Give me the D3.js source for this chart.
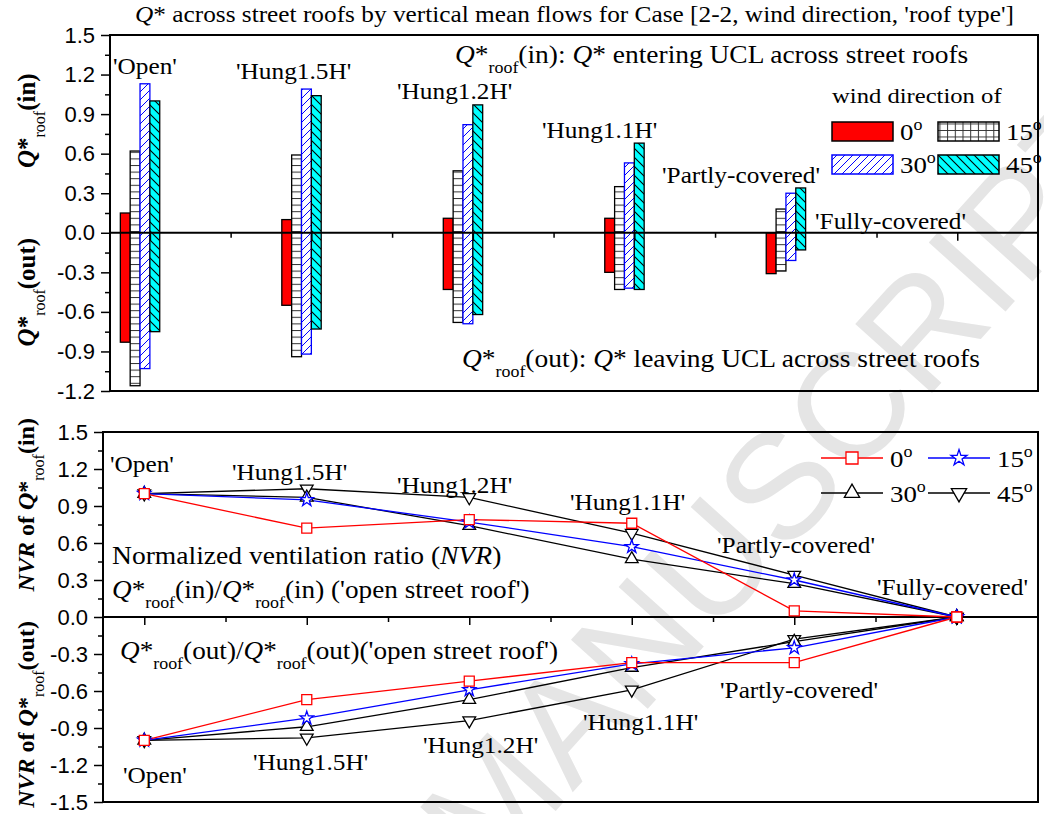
<!DOCTYPE html>
<html>
<head>
<meta charset="utf-8">
<script src="https://cdn.jsdelivr.net/npm/d3@7"></script>
<style>
  body { margin: 0; background: #fff; }
  svg { display: block; }
  .serif { font-family: "Liberation Serif", "Times New Roman", Times, "DejaVu Serif", serif; }
  .sans { font-family: "Liberation Sans", Arial, Helvetica, sans-serif; }
</style>
</head>
<body>
<svg id="chart" width="1044" height="814"></svg>
<script>
// ---- data -------------------------------------------------------------
const roofTypes = ["'Open'", "'Hung1.5H'", "'Hung1.2H'", "'Hung1.1H'", "'Partly-covered'", "'Fully-covered'"];
const windDirections = ["0", "15", "30", "45"];

// Q*roof(in) (positive) and Q*roof(out) (negative), one entry per roof type
const qIn0   = [0.15, 0.10, 0.11, 0.11, 0.00, 0];
const qIn15  = [0.62, 0.59, 0.47, 0.35, 0.18, 0];
const qIn30  = [1.13, 1.09, 0.82, 0.53, 0.30, 0];
const qIn45  = [1.00, 1.04, 0.97, 0.68, 0.34, 0];
const qOut0  = [-0.83, -0.55, -0.43, -0.30, -0.31, 0];
const qOut15 = [-1.16, -0.94, -0.68, -0.43, -0.29, 0];
const qOut30 = [-1.03, -0.92, -0.69, -0.42, -0.21, 0];
const qOut45 = [-0.75, -0.73, -0.62, -0.43, -0.13, 0];

// normalized ventilation ratio (NVR) against the open street roof
const nvrIn0   = [1, 0.72, 0.79, 0.76, 0.05, 0];
const nvrIn15  = [1, 0.95, 0.77, 0.57, 0.30, 0];
const nvrIn30  = [1, 0.97, 0.74, 0.47, 0.27, 0];
const nvrIn45  = [1, 1.04, 0.97, 0.68, 0.34, 0];
const nvrOut0  = [-1, -0.67, -0.52, -0.37, -0.37, 0];
const nvrOut15 = [-1, -0.82, -0.59, -0.38, -0.25, 0];
const nvrOut30 = [-1, -0.89, -0.67, -0.41, -0.20, 0];
const nvrOut45 = [-1, -0.98, -0.84, -0.59, -0.18, 0];

const qTicks   = [-1.2, -0.9, -0.6, -0.3, 0.0, 0.3, 0.6, 0.9, 1.2, 1.5];
const nvrTicks = [-1.5, -1.2, -0.9, -0.6, -0.3, 0.0, 0.3, 0.6, 0.9, 1.2, 1.5];

// ---- setup ------------------------------------------------------------
const svg = d3.select("#chart");
const SX = 1.12;           // horizontal widening of the serif lettering

const fmt = v => d3.format(".1f")(v).replace("\u2212", "-");

// watermark behind the plots
svg.append("text")
  .attr("class", "sans")
  .attr("transform", "translate(782,482) rotate(-48)")
  .attr("text-anchor", "middle")
  .attr("dominant-baseline", "central")
  .attr("font-size", 150)
  .attr("fill", "#e5e5e5")
  .text("MANUSCRIPT");

// rich text helper: segments {t, i (italic), b (bold), sub, sup}
function rich(parent, x, y, segs, o = {}) {
  const size = o.size || 22;
  const tr = o.rotate ? `translate(${x},${y}) rotate(${o.rotate})`
                      : `translate(${x},${y}) scale(${o.sx || SX},1)`;
  const t = parent.append("text")
    .attr("class", "serif")
    .attr("transform", tr)
    .attr("font-size", size)
    .attr("font-weight", o.bold ? "bold" : "normal")
    .attr("text-anchor", o.anchor || "start")
    .attr("fill", "#000");
  let shift = 0;
  const subSize = o.subSize || Math.round(size * 0.62);
  segs.forEach(s => {
    if (typeof s === "string") s = { t: s };
    const sp = t.append("tspan").text(s.t);
    const target = s.sub ? Math.round(size * 0.4) : s.sup ? -Math.round(size * 0.42) : 0;
    if (target !== shift) { sp.attr("dy", target - shift); shift = target; }
    if (s.i) sp.attr("font-style", "italic");
    if (s.b === false) sp.attr("font-weight", "normal");
    if (s.sub || s.sup) sp.attr("font-size", subSize);
  });
  return t;
}
const Q = { t: "Q", i: true };
const ROOF = { t: "roof", sub: true };
const DEG = { t: "o", sup: true };

function styleAxis(g) {
  g.select(".domain").remove();
  g.attr("font-family", null).attr("font-size", null).attr("class", "sans");
  g.selectAll("text").attr("font-size", 22).attr("fill", "#000");
  g.selectAll("line").attr("stroke", "#000").attr("stroke-width", 1.5);
}

// ---- patterns -----------------------------------------------------------
const defs = svg.append("defs");
const pH = defs.append("pattern").attr("id", "hlines").attr("patternUnits", "userSpaceOnUse")
  .attr("width", 20).attr("height", 6.6);
pH.append("rect").attr("width", 20).attr("height", 6.6).attr("fill", "#fff");
pH.append("line").attr("x1", 0).attr("x2", 20).attr("y1", 0.5).attr("y2", 0.5)
  .attr("stroke", "#333").attr("stroke-width", 1);

const pG = defs.append("pattern").attr("id", "grid").attr("patternUnits", "userSpaceOnUse")
  .attr("width", 7.7).attr("height", 6.5);
pG.append("rect").attr("width", 7.7).attr("height", 6.5).attr("fill", "#fff");
pG.append("path").attr("d", "M0,0.5H7.7M0.5,0V6.5").attr("stroke", "#333").attr("stroke-width", 1);

const pB = defs.append("pattern").attr("id", "fwd").attr("patternUnits", "userSpaceOnUse")
  .attr("width", 8).attr("height", 8);
pB.append("rect").attr("width", 8).attr("height", 8).attr("fill", "#fff");
pB.append("path").attr("d", "M0,8L8,0M-2,2L2,-2M6,10L10,6")
  .attr("stroke", "#0000ff").attr("stroke-width", 1);

const pC = defs.append("pattern").attr("id", "bwd").attr("patternUnits", "userSpaceOnUse")
  .attr("width", 9).attr("height", 9);
pC.append("rect").attr("width", 9).attr("height", 9).attr("fill", "#00ffff");
pC.append("path").attr("d", "M0,0L9,9M-2,7L2,11M7,-2L11,2")
  .attr("stroke", "#000").attr("stroke-width", 1.1);

const barStyles = [
  { fill: "#ff0000", stroke: "#000", legend: "#ff0000" },
  { fill: "url(#hlines)", stroke: "#000", legend: "url(#grid)" },
  { fill: "url(#fwd)", stroke: "#0000ff", legend: "url(#fwd)" },
  { fill: "url(#bwd)", stroke: "#000", legend: "url(#bwd)" }
];

// ---- title ----------------------------------------------------------------
rich(svg, 135, 22, [Q, "* across street roofs by vertical mean flows for Case [2-2, wind direction, 'roof type']"],
  { size: 22.6 });

// ==== upper panel: Q* bars ==================================================
const T = { l: 110, r: 1038, t: 35, b: 391 };
const xTop = d3.scaleLinear().domain([-0.247, 5.5]).range([T.l, T.r]);
const yTop = d3.scaleLinear().domain([-1.2, 1.5]).range([T.b, T.t]);
const barW = 0.061;

const gTop = svg.append("g");
const qInSeries = [qIn0, qIn15, qIn30, qIn45];
const qOutSeries = [qOut0, qOut15, qOut30, qOut45];

windDirections.forEach((w, k) => {
  const rows = roofTypes.map((r, i) => ({ i, hi: qInSeries[k][i], lo: qOutSeries[k][i] }))
    .filter(d => d.hi !== 0 || d.lo !== 0);
  gTop.selectAll(null).data(rows).join("rect")
    .attr("x", d => xTop(d.i + (k - 3) * barW))
    .attr("width", d => xTop(d.i + (k - 2) * barW) - xTop(d.i + (k - 3) * barW))
    .attr("y", d => yTop(d.hi))
    .attr("height", d => yTop(d.lo) - yTop(d.hi))
    .attr("fill", barStyles[k].fill)
    .attr("stroke", barStyles[k].stroke)
    .attr("stroke-width", 1.3);
});

// y axis (major + minor, outward)
const minorQ = d3.range(-1.05, 1.5, 0.3).map(v => +v.toFixed(2));
gTop.append("g").attr("transform", `translate(${T.l},0)`)
  .call(d3.axisLeft(yTop).tickValues(qTicks).tickSize(9).tickPadding(6).tickFormat(fmt))
  .call(styleAxis);
gTop.append("g").attr("transform", `translate(${T.l},0)`)
  .call(d3.axisLeft(yTop).tickValues(minorQ).tickSize(5).tickFormat(""))
  .call(styleAxis);

// zero line with category ticks
const zeroTop = gTop.append("g").attr("transform", `translate(0,${yTop(0)})`);
zeroTop.append("g").call(d3.axisBottom(xTop).tickValues(d3.range(0, 6)).tickSize(8).tickFormat(""))
  .call(styleAxis);
zeroTop.append("g").call(d3.axisBottom(xTop).tickValues(d3.range(0.5, 5.5, 1)).tickSize(5).tickFormat(""))
  .call(styleAxis);
gTop.append("line").attr("x1", T.l).attr("x2", T.r).attr("y1", yTop(0)).attr("y2", yTop(0))
  .attr("stroke", "#000").attr("stroke-width", 2);

gTop.append("rect").attr("x", T.l).attr("y", T.t).attr("width", T.r - T.l).attr("height", T.b - T.t)
  .attr("fill", "none").attr("stroke", "#000").attr("stroke-width", 2);

// y titles
rich(svg, 35, yTop(0.85), [Q, "*", { t: "roof", sub: true, b: false }, "(in)"],
  { size: 25, bold: true, rotate: -90, anchor: "middle", subSize: 16 });
rich(svg, 35, yTop(-0.45), [Q, "*", { t: "roof", sub: true, b: false }, "(out)"],
  { size: 25, bold: true, rotate: -90, anchor: "middle", subSize: 16 });

// category labels
const topLabelPos = [[113, 74], [236, 79], [397, 99], [542, 138], [662, 183], [815, 229]];
roofTypes.forEach((r, i) => rich(svg, topLabelPos[i][0], topLabelPos[i][1], [r], { size: 22.6 }));

// notes
rich(svg, 455, 63, [Q, "*", ROOF, "(in): ", Q, "* entering UCL across street roofs"], { size: 24.5, subSize: 16 });
rich(svg, 462, 367, [Q, "*", ROOF, "(out): ", Q, "* leaving UCL across street roofs"], { size: 24.5, subSize: 16 });

// legend
rich(svg, 832, 103, ["wind direction of"], { size: 22 });
const legBox = [[832, 122], [938, 122], [832, 155], [938, 155]];
windDirections.forEach((w, k) => {
  svg.append("rect").attr("x", legBox[k][0]).attr("y", legBox[k][1])
    .attr("width", 61).attr("height", 19)
    .attr("fill", barStyles[k].legend).attr("stroke", barStyles[k].stroke).attr("stroke-width", 1.5);
  rich(svg, legBox[k][0] + 68, legBox[k][1] + 18, [w, DEG], { size: 24, subSize: 16 });
});

// ==== lower panel: NVR lines ================================================
const B = { l: 103, r: 1038, t: 432, b: 802 };
const xLow = d3.scaleLinear().domain([-0.254, 5.5]).range([B.l, B.r]);
const yLow = d3.scaleLinear().domain([-1.5, 1.5]).range([B.b, B.t]);
const gLow = svg.append("g");

const minorN = d3.range(-1.35, 1.5, 0.3).map(v => +v.toFixed(2));
gLow.append("g").attr("transform", `translate(${B.l},0)`)
  .call(d3.axisLeft(yLow).tickValues(nvrTicks).tickSize(9).tickPadding(6).tickFormat(fmt))
  .call(styleAxis);
gLow.append("g").attr("transform", `translate(${B.l},0)`)
  .call(d3.axisLeft(yLow).tickValues(minorN).tickSize(5).tickFormat(""))
  .call(styleAxis);
const zeroLow = gLow.append("g").attr("transform", `translate(0,${yLow(0)})`);
zeroLow.append("g").call(d3.axisBottom(xLow).tickValues(d3.range(0, 6)).tickSize(8).tickFormat(""))
  .call(styleAxis);
zeroLow.append("g").call(d3.axisBottom(xLow).tickValues(d3.range(0.5, 5.5, 1)).tickSize(5).tickFormat(""))
  .call(styleAxis);
gLow.append("line").attr("x1", B.l).attr("x2", B.r).attr("y1", yLow(0)).attr("y2", yLow(0))
  .attr("stroke", "#000").attr("stroke-width", 2);
gLow.append("rect").attr("x", B.l).attr("y", B.t).attr("width", B.r - B.l).attr("height", B.b - B.t)
  .attr("fill", "none").attr("stroke", "#000").attr("stroke-width", 2);

const lineStyles = [
  { color: "#ff0000", sym: d3.symbolSquare, size: 100, rot: 0 },
  { color: "#0000ff", sym: d3.symbolStar, size: 55, rot: 0 },
  { color: "#000000", sym: d3.symbolTriangle, size: 70, rot: 0 },
  { color: "#000000", sym: d3.symbolTriangle, size: 70, rot: 180 }
];
const nvrIn = [nvrIn0, nvrIn15, nvrIn30, nvrIn45];
const nvrOut = [nvrOut0, nvrOut15, nvrOut30, nvrOut45];
const line = d3.line().x((d, i) => xLow(i)).y(d => yLow(d));

function marker(g, x, y, st) {
  g.append("path")
    .attr("d", d3.symbol(st.sym, st.size)())
    .attr("transform", `translate(${x},${y}) rotate(${st.rot})`)
    .attr("fill", "#fff").attr("stroke", st.color).attr("stroke-width", 1.3);
}

[3, 2, 1, 0].forEach(k => {
  const st = lineStyles[k];
  [nvrIn[k], nvrOut[k]].forEach(series => {
    gLow.append("path").datum(series).attr("d", line)
      .attr("fill", "none").attr("stroke", st.color).attr("stroke-width", 1.3);
  });
});
[3, 2, 1, 0].forEach(k => {
  const st = lineStyles[k];
  [nvrIn[k], nvrOut[k]].forEach(series => {
    series.forEach((v, i) => marker(gLow, xLow(i), yLow(v), st));
  });
});

// y titles
rich(svg, 34, yLow(0.91), [{ t: "NVR", i: true }, " of ", Q, "*", { t: "roof", sub: true, b: false }, "(in)"],
  { size: 24, bold: true, rotate: -90, anchor: "middle", subSize: 16 });
rich(svg, 34, yLow(-0.79), [{ t: "NVR", i: true }, " of ", Q, "*", { t: "roof", sub: true, b: false }, "(out)"],
  { size: 24, bold: true, rotate: -90, anchor: "middle", subSize: 16 });

// category labels above (in) and below (out) the lines
const lowInPos  = [[110, 472], [232, 480], [397, 493], [570, 510], [717, 553], [877, 595]];
const lowOutPos = [[123, 783], [253, 770], [423, 753], [583, 730], [720, 698]];
roofTypes.forEach((r, i) => rich(svg, lowInPos[i][0], lowInPos[i][1], [r], { size: 22.6 }));
roofTypes.slice(0, 5).forEach((r, i) => rich(svg, lowOutPos[i][0], lowOutPos[i][1], [r], { size: 22.6 }));

rich(svg, 112, 564, ["Normalized ventilation ratio (", { t: "NVR", i: true }, ")"], { size: 24.6 });
rich(svg, 112, 598, [Q, "*", ROOF, "(in)/", Q, "*", ROOF, "(in) ('open street roof')"], { size: 24.3, subSize: 16 });
rich(svg, 120, 659, [Q, "*", ROOF, "(out)/", Q, "*", ROOF, "(out)('open street roof')"], { size: 24.3, subSize: 16 });

// legend
const legLine = [[821, 458], [928, 458], [821, 493], [928, 493]];
windDirections.forEach((w, k) => {
  const st = lineStyles[k];
  const [lx, ly] = legLine[k];
  svg.append("line").attr("x1", lx).attr("x2", lx + 62).attr("y1", ly).attr("y2", ly)
    .attr("stroke", st.color).attr("stroke-width", 1.3);
  marker(svg, lx + 31, ly, { ...st, size: st.size * 1.45 });
  rich(svg, lx + 69, ly + 9, [w, DEG], { size: 24, subSize: 16 });
});
</script>
</body>
</html>
